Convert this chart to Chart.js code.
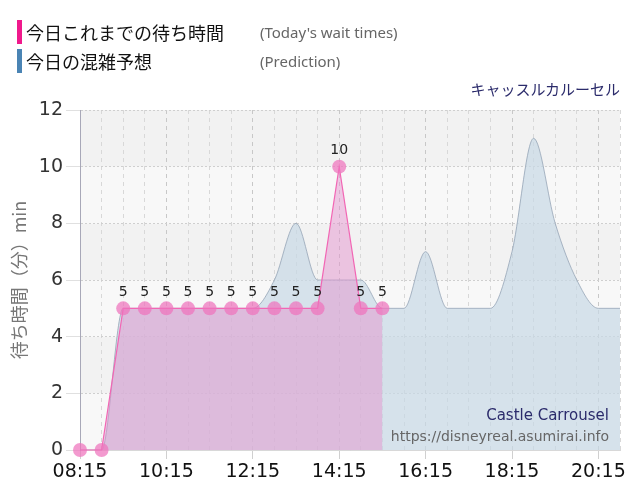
<!doctype html>
<html>
  <head>
    <title>キャッスルカルーセル</title>
    <script src="https://cdn.jsdelivr.net/npm/chart.js@4/dist/chart.umd.min.js"></script>
    <style>
        * { margin: 0; padding: 0; box-sizing: border-box; }
        body { width: 640px; height: 500px; background: #fff; position: relative; overflow: hidden; }
        #wrap { position: absolute; left: 0; top: 0; width: 640px; height: 500px; }
        .leg { position: absolute; left: 17px; height: 24px; font: 18px "Noto Sans CJK JP"; color: #111; line-height: 24px; }
        .leg i { position: absolute; left: 0; top: 0; width: 5px; height: 24px; }
        .leg span { position: absolute; left: 9px; top: 0; white-space: nowrap; }
        .leg em { position: absolute; left: 243px; top: 0; font: 15px "Noto Sans"; color: #666; font-style: normal; white-space: nowrap; line-height: 24px; }
        #name { position: absolute; right: 20px; top: 78px; font: 15px "Noto Sans CJK JP"; color: #2b2b6b; white-space: nowrap; }
    </style>
  </head>
  <body>
    <div id="wrap"><canvas id="myChart" width="640" height="500"></canvas></div>
    <div class="leg" style="top:20px"><i style="background:#f0198c"></i><span>今日これまでの待ち時間</span><em>(Today's wait times)</em></div>
    <div class="leg" style="top:49px"><i style="background:#4a84b4"></i><span>今日の混雑予想</span><em>(Prediction)</em></div>
    <div id="name">キャッスルカルーセル</div>
    <script>
    // 30分ごと 08:15 - 20:45
    const times = ["08:15","08:45","09:15","09:45","10:15","10:45","11:15","11:45","12:15","12:45",
                   "13:15","13:45","14:15","14:45","15:15","15:45","16:15","16:45","17:15","17:45",
                   "18:15","18:45","19:15","19:45","20:15","20:45"];
    const waitToday = [0,0,5,5,5,5,5,5,5,5,5,5,10,5,5];
    const prediction = [0,0,5,5,5,5,5,5,5,6,8,6,6,6,5,5,7,5,5,5,7,11,8,6,5,5];
    const yTicks = [0,2,4,6,8,10,12];

    const bands = {
      id: 'bands',
      beforeDraw(chart) {
        const ctx = chart.ctx, a = chart.chartArea, y = chart.scales.y;
        ctx.save();
        for (let i = 0; i < yTicks.length - 1; i++) {
          const y0 = y.getPixelForValue(yTicks[i]), y1 = y.getPixelForValue(yTicks[i + 1]);
          ctx.fillStyle = (i % 2) ? '#f2f2f2' : '#f8f8f8';
          ctx.fillRect(a.left, y1, a.right - a.left, y0 - y1);
        }
        ctx.restore();
      }
    };

    const labels = {
      id: 'labels',
      afterDatasetsDraw(chart) {
        const ctx = chart.ctx;
        const meta = chart.getDatasetMeta(0);
        ctx.save();
        ctx.font = '14px "DejaVu Sans"';
        ctx.fillStyle = '#222';
        ctx.textAlign = 'center';
        ctx.textBaseline = 'bottom';
        meta.data.forEach((p, i) => {
          if (waitToday[i] > 0) ctx.fillText(String(waitToday[i]), p.x, p.y - 9);
        });
        const a = chart.chartArea;
        ctx.textAlign = 'right';
        ctx.textBaseline = 'alphabetic';
        ctx.font = '15px "DejaVu Sans"';
        ctx.fillStyle = '#2b2b6b';
        ctx.fillText('Castle Carrousel', a.right - 11, a.bottom - 30);
        ctx.font = '14px "DejaVu Sans"';
        ctx.fillStyle = '#666';
        ctx.fillText('https://disneyreal.asumirai.info', a.right - 11, a.bottom - 9);
        ctx.restore();
      }
    };

    var ctx1 = document.getElementById("myChart").getContext('2d');
    var myChart = new Chart(ctx1, {
        type: 'line',
        data: {
            labels: times,
            datasets: [{
                label: '今日これまでの待ち時間',
                data: waitToday,
                order: 1,
                borderColor: '#f266b4',
                borderWidth: 1.2,
                backgroundColor: 'rgba(227,148,206,0.5)',
                fill: 'origin',
                tension: 0,
                pointRadius: 7,
                pointBorderWidth: 0,
                pointBackgroundColor: 'rgba(238,115,188,0.72)',
                clip: false
            }, {
                label: '今日の混雑予想',
                data: prediction,
                order: 2,
                borderColor: 'rgba(150,165,182,0.8)',
                borderWidth: 1,
                backgroundColor: 'rgba(200,216,230,0.7)',
                fill: 'origin',
                cubicInterpolationMode: 'monotone',
                pointRadius: 0
            }]
        },
        options: {
            responsive: false,
            animation: false,
            layout: { padding: { top: 110, right: 20, left: 0, bottom: 0 } },
            plugins: { legend: { display: false }, tooltip: { enabled: false } },
            scales: {
                x: {
                    afterFit: s => { s.height = 50; },
                    grid: {
                        color: c => (c.index % 4 === 0) ? '#c8c8c8' : '#d8d8d8',
                        tickColor: c => (c.index % 4 === 0) ? '#d0d0d0' : 'rgba(0,0,0,0)',
                        tickLength: 9
                    },
                    border: { color: '#d8d8d8', dash: [4, 4] },
                    ticks: {
                        autoSkip: false, maxRotation: 0, padding: 2,
                        color: '#111',
                        font: { family: 'DejaVu Sans', size: 19 },
                        callback: (v, i) => (i % 4 === 0) ? times[i] : ''
                    }
                },
                y: {
                    min: 0, max: 12,
                    afterFit: s => { s.width = 80; },
                    grid: { color: '#cfcfcf', tickLength: 14, tickColor: '#e0e0e0' },
                    border: { color: '#a8a8b8', dash: [2, 2] },
                    ticks: {
                        stepSize: 2, padding: 3, color: '#333',
                        font: { family: 'DejaVu Sans', size: 19 }
                    },
                    title: {
                        display: true, text: '待ち時間（分）min', color: '#777',
                        font: { family: 'Noto Sans CJK JP', size: 18 },
                        padding: { top: 8, bottom: 0 }
                    }
                }
            }
        },
        plugins: [bands, labels]
    });
    </script>
  </body>
</html>
